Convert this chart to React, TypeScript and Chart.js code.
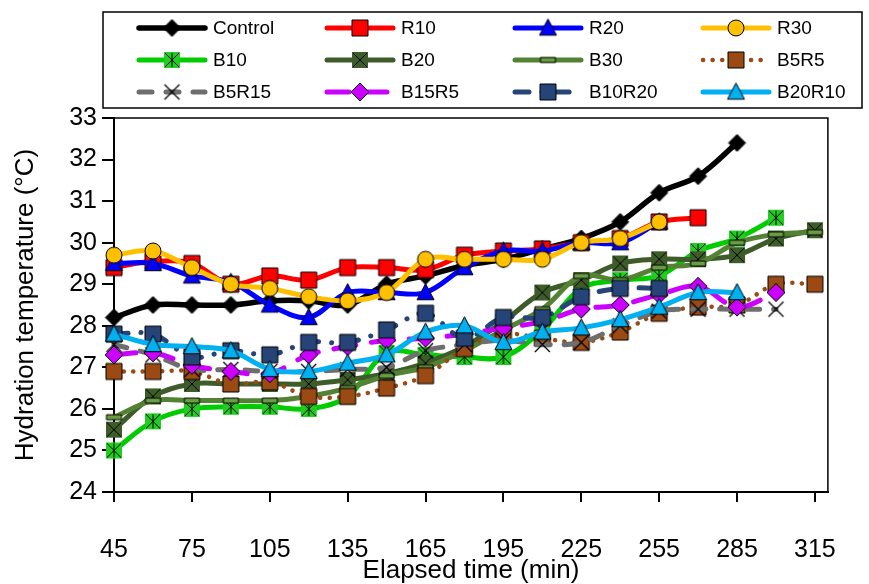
import React, { useEffect, useRef } from 'react';
import { Chart, registerables } from 'chart.js';

Chart.register(...registerables);

// Sampling times (min) and axis ticks
const times = [45, 60, 75, 90, 105, 120, 135, 150, 165, 180, 195, 210, 225, 240, 255, 270, 285, 300, 315];
const xTicks = [45, 75, 105, 135, 165, 195, 225, 255, 285, 315];
const yTicks = [24, 25, 26, 27, 28, 29, 30, 31, 32, 33];

// Hydration temperature (°C) for each mix, one value per sampling time
const control = [28.2, 28.5, 28.5, 28.5, 28.6, 28.6, 28.5, 29.0, 29.2, 29.45, 29.6, 29.85, 30.1, 30.5, 31.2, 31.6, 32.4];
const r10 = [29.4, 29.55, 29.5, 29.0, 29.2, 29.1, 29.4, 29.4, 29.35, 29.7, 29.8, 29.85, 30.0, 30.1, 30.5, 30.6];
const r20 = [29.5, 29.5, 29.2, 29.05, 28.5, 28.2, 28.8, 28.8, 28.8, 29.4, 29.8, 29.8, 30.0, 30.0, 30.5];
const r30 = [29.7, 29.8, 29.4, 29.0, 28.9, 28.7, 28.6, 28.8, 29.6, 29.6, 29.6, 29.6, 30.0, 30.1, 30.5];
const b10 = [25.0, 25.7, 26.0, 26.05, 26.05, 26.0, 26.3, 27.35, 27.3, 27.25, 27.25, 27.9, 28.9, 29.1, 29.2, 29.8, 30.1, 30.6];
const b20 = [25.5, 26.3, 26.6, 26.6, 26.6, 26.6, 26.7, 26.85, 27.1, 27.5, 28.1, 28.8, 29.1, 29.5, 29.6, 29.6, 29.7, 30.1, 30.3];
const b30 = [25.8, 26.2, 26.2, 26.2, 26.2, 26.3, 26.5, 26.8, 27.0, 27.4, 27.9, 28.4, 29.2, 29.1, 29.4, 29.5, 30.0, 30.2, 30.25];
const b5r5 = [26.9, 26.9, 26.9, 26.6, 26.65, 26.3, 26.3, 26.5, 26.8, 27.45, 27.8, 27.7, 27.6, 27.85, 28.3, 28.45, 28.5, 29.0, 29.0];
const b5r15 = [27.55, 27.3, 26.95, 26.95, 26.9, 26.9, 26.95, 27.0, 27.4, 27.55, 27.65, 27.55, 27.6, 28.0, 28.35, 28.4, 28.4, 28.4];
const b15r5 = [27.3, 27.35, 27.05, 26.9, 26.85, 27.3, 27.5, 27.65, 27.7, 27.8, 27.95, 28.1, 28.4, 28.5, 28.75, 28.95, 28.45, 28.8];
const b10r20 = [27.8, 27.8, 27.25, 27.4, 27.3, 27.6, 27.6, 27.9, 28.3, 27.7, 28.2, 28.2, 28.7, 28.9, 28.9];
const b20r10 = [27.8, 27.55, 27.5, 27.4, 26.95, 26.9, 27.1, 27.3, 27.85, 28.0, 27.6, 27.85, 27.95, 28.15, 28.45, 28.8, 28.8];

const FONT = "'Liberation Sans', Arial, sans-serif";

type MarkerKind = 'diamond' | 'square' | 'triangle' | 'circle' | 'asterisk' | 'xsquare' | 'bar' | 'cross';

interface SeriesDef {
  label: string;
  values: number[];
  color: string;
  width: number;
  dash: number[];
  marker: MarkerKind;
  markerFill: string;
  markerSize: number;
}

const series: SeriesDef[] = [
  { label: 'Control', values: control, color: '#000000', width: 5.5, dash: [], marker: 'diamond', markerFill: '#000000', markerSize: 17 },
  { label: 'R10', values: r10, color: '#FF0000', width: 5, dash: [], marker: 'square', markerFill: '#FF0000', markerSize: 16 },
  { label: 'R20', values: r20, color: '#0000FF', width: 5, dash: [], marker: 'triangle', markerFill: '#0000FF', markerSize: 17 },
  { label: 'R30', values: r30, color: '#FFC000', width: 5, dash: [], marker: 'circle', markerFill: '#FFC000', markerSize: 16 },
  { label: 'B10', values: b10, color: '#00CC00', width: 5, dash: [], marker: 'asterisk', markerFill: '#22CC22', markerSize: 16 },
  { label: 'B20', values: b20, color: '#3D5C2A', width: 5, dash: [], marker: 'xsquare', markerFill: '#3D5C2A', markerSize: 16 },
  { label: 'B30', values: b30, color: '#548235', width: 5, dash: [], marker: 'bar', markerFill: '#6A9E45', markerSize: 15 },
  { label: 'B5R5', values: b5r5, color: '#9A4A12', width: 4.5, dash: [0.1, 9.5], marker: 'square', markerFill: '#9A4A12', markerSize: 16 },
  { label: 'B5R15', values: b5r15, color: '#6E6E6E', width: 5, dash: [13, 14], marker: 'cross', markerFill: '#000000', markerSize: 15 },
  { label: 'B15R5', values: b15r5, color: '#CC00FF', width: 5, dash: [22, 16], marker: 'diamond', markerFill: '#CC00FF', markerSize: 18 },
  { label: 'B10R20', values: b10r20, color: '#264478', width: 5, dash: [14, 13, 0.1, 13], marker: 'square', markerFill: '#264478', markerSize: 16 },
  { label: 'B20R10', values: b20r10, color: '#00B0F0', width: 5, dash: [], marker: 'triangle', markerFill: '#00B0F0', markerSize: 17 },
];

function makeMarker(kind: MarkerKind, fill: string, size: number): HTMLCanvasElement {
  const pad = 2;
  const S = Math.ceil(size + pad * 2);
  const cv = document.createElement('canvas');
  cv.width = S;
  cv.height = S;
  const ctx = cv.getContext('2d') as CanvasRenderingContext2D;
  const c = S / 2;
  const h = size / 2;
  ctx.lineWidth = 1;
  ctx.strokeStyle = '#000';
  ctx.fillStyle = fill;
  ctx.beginPath();
  switch (kind) {
    case 'diamond':
      ctx.moveTo(c, c - h);
      ctx.lineTo(c + h, c);
      ctx.lineTo(c, c + h);
      ctx.lineTo(c - h, c);
      ctx.closePath();
      ctx.fill();
      ctx.stroke();
      break;
    case 'square':
      ctx.rect(c - h, c - h, size, size);
      ctx.fill();
      ctx.stroke();
      break;
    case 'triangle':
      ctx.moveTo(c, c - h * 1.05);
      ctx.lineTo(c + h, c + h * 0.85);
      ctx.lineTo(c - h, c + h * 0.85);
      ctx.closePath();
      ctx.fill();
      ctx.stroke();
      break;
    case 'circle':
      ctx.arc(c, c, h, 0, Math.PI * 2);
      ctx.fill();
      ctx.stroke();
      break;
    case 'asterisk':
      ctx.fillRect(c - h, c - h, size, size);
      ctx.moveTo(c - h + 1, c - h + 1);
      ctx.lineTo(c + h - 1, c + h - 1);
      ctx.moveTo(c + h - 1, c - h + 1);
      ctx.lineTo(c - h + 1, c + h - 1);
      ctx.moveTo(c, c - h + 1);
      ctx.lineTo(c, c + h - 1);
      ctx.stroke();
      break;
    case 'xsquare':
      ctx.fillRect(c - h, c - h, size, size);
      ctx.moveTo(c - h + 1, c - h + 1);
      ctx.lineTo(c + h - 1, c + h - 1);
      ctx.moveTo(c + h - 1, c - h + 1);
      ctx.lineTo(c - h + 1, c + h - 1);
      ctx.stroke();
      break;
    case 'bar':
      ctx.rect(c - h, c - 2.5, size, 5);
      ctx.fill();
      ctx.stroke();
      break;
    case 'cross':
      ctx.lineWidth = 1.3;
      ctx.moveTo(c - h, c - h);
      ctx.lineTo(c + h, c + h);
      ctx.moveTo(c + h, c - h);
      ctx.lineTo(c - h, c + h);
      ctx.stroke();
      break;
  }
  return cv;
}

// Legend layout: 4 columns x 3 rows inside a framed box
const legendBox = { left: 103, top: 12, right: 862, bottom: 108 };
const legendMarkerX = [172, 360, 548, 736];
const legendTextX = [213, 401, 589, 777];
const legendRowY = [28, 60, 92];

export default function App() {
  const canvasRef = useRef<HTMLCanvasElement | null>(null);

  useEffect(() => {
    const canvas = canvasRef.current;
    if (!canvas) return;
    const markers = series.map((s) => makeMarker(s.marker, s.markerFill, s.markerSize));

    const framePlugin = {
      id: 'frameAndLegend',
      beforeDatasetsDraw(chart: any) {
        const { ctx, chartArea } = chart;
        ctx.save();
        ctx.strokeStyle = '#000';
        ctx.lineWidth = 1.5;
        ctx.beginPath();
        ctx.moveTo(chartArea.left, chartArea.top);
        ctx.lineTo(chartArea.right, chartArea.top);
        ctx.lineTo(chartArea.right, chartArea.bottom);
        ctx.stroke();
        ctx.restore();
      },
      afterDraw(chart: any) {
        const ctx: CanvasRenderingContext2D = chart.ctx;
        ctx.save();
        ctx.strokeStyle = '#000';
        ctx.lineWidth = 1.5;
        ctx.strokeRect(legendBox.left, legendBox.top, legendBox.right - legendBox.left, legendBox.bottom - legendBox.top);
        series.forEach((s, i) => {
          const col = i % 4;
          const row = Math.floor(i / 4);
          const mx = legendMarkerX[col];
          const y = legendRowY[row];
          ctx.save();
          ctx.strokeStyle = s.color;
          ctx.lineWidth = s.width;
          ctx.lineCap = 'round';
          ctx.setLineDash(s.dash);
          ctx.beginPath();
          ctx.moveTo(mx - 33, y);
          ctx.lineTo(mx + 33, y);
          ctx.stroke();
          ctx.restore();
          const m = markers[i];
          ctx.drawImage(m, mx - m.width / 2, y - m.height / 2);
          ctx.fillStyle = '#000';
          ctx.font = `19px ${FONT}`;
          ctx.textBaseline = 'middle';
          ctx.textAlign = 'left';
          ctx.fillText(s.label, legendTextX[col], y + 1);
        });
        ctx.restore();
      },
    };

    const chart = new Chart(canvas, {
      type: 'line',
      data: {
        datasets: series.map((s, i) => ({
          label: s.label,
          data: s.values.map((v, k) => ({ x: times[k], y: v })),
          borderColor: s.color,
          backgroundColor: s.color,
          borderWidth: s.width,
          borderDash: s.dash,
          borderCapStyle: 'round',
          borderJoinStyle: 'round',
          tension: 0.35,
          pointStyle: markers[i],
          pointRadius: 7,
          clip: false,
          fill: false,
          order: series.length - i,
        })) as any,
      },
      options: {
        responsive: false,
        animation: false,
        events: [],
        layout: { padding: { top: 118, right: 12, left: 0, bottom: 0 } },
        plugins: {
          legend: { display: false },
          tooltip: { enabled: false },
        },
        scales: {
          x: {
            type: 'linear',
            min: 45,
            max: 320,
            afterBuildTicks: (s: any) => {
              s.ticks = xTicks.map((v) => ({ value: v }));
            },
            afterFit: (s: any) => {
              s.height = 92;
            },
            grid: { display: true, drawOnChartArea: false, drawTicks: true, tickLength: 10, color: '#000', lineWidth: 2 },
            border: { display: true, color: '#000', width: 2 },
            ticks: { color: '#000', font: { family: FONT, size: 25 }, padding: 33, maxRotation: 0, autoSkip: false },
            title: {
              display: true,
              text: 'Elapsed time (min)',
              color: '#000',
              font: { family: FONT, size: 26, lineHeight: 1 },
              padding: { top: 0, bottom: 0 },
            },
          },
          y: {
            type: 'linear',
            min: 24,
            max: 33,
            afterBuildTicks: (s: any) => {
              s.ticks = yTicks.map((v) => ({ value: v }));
            },
            afterFit: (s: any) => {
              s.width = 114;
            },
            grid: { display: true, drawOnChartArea: false, drawTicks: true, tickLength: 12, color: '#000', lineWidth: 2 },
            border: { display: true, color: '#000', width: 2 },
            ticks: { color: '#000', font: { family: FONT, size: 25 }, padding: 5 },
            title: {
              display: true,
              text: 'Hydration temperature (°C)',
              color: '#000',
              font: { family: FONT, size: 26, lineHeight: 1 },
              padding: { top: 13, bottom: 0 },
            },
          },
        },
      } as any,
      plugins: [framePlugin],
    });

    return () => chart.destroy();
  }, []);

  return (
    <div style={{ position: 'absolute', left: 0, top: 0, width: 869, height: 584, background: '#fff' }}>
      <canvas ref={canvasRef} width={869} height={584} style={{ display: 'block' }} />
    </div>
  );
}
